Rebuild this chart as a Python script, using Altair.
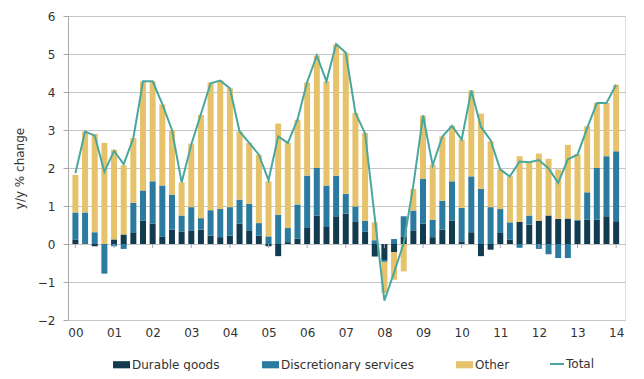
import json
import altair as alt
import pandas as pd

year_labels = ["00", "01", "02", "03", "04", "05", "06", "07", "08", "09", "10", "11", "12", "13", "14"]
quarters = list(range(57))  # 2000Q1 .. 2014Q1

series_names = ["Durable goods", "Discretionary services", "Other"]

durable = [0.12, 0.02, -0.06, 0.0, 0.12, 0.25, 0.29, 0.61, 0.54, 0.20,
           0.38, 0.33, 0.36, 0.38, 0.22, 0.18, 0.22, 0.54, 0.36, 0.22,
           -0.06, -0.32, 0.05, 0.14, 0.44, 0.75, 0.45, 0.73, 0.80, 0.58,
           0.32, -0.33, -0.42, -0.22, 0.20, 0.36, 0.54, 0.18, 0.38, 0.62,
           0.07, 0.31, -0.32, -0.15, 0.29, 0.11, 0.58, 0.51, 0.61, 0.75,
           0.66, 0.67, 0.61, 0.64, 0.64, 0.73, 0.60]

discretionary = [0.71, 0.81, 0.31, -0.78, -0.06, -0.13, 0.79, 0.80, 1.11, 1.34,
                 0.92, 0.42, 0.61, 0.30, 0.67, 0.74, 0.75, 0.63, 0.70, 0.33,
                 0.20, 0.77, 0.37, 0.90, 1.36, 1.25, 1.09, 1.07, 0.52, 0.41,
                 0.29, 0.10, -0.05, 0.13, 0.53, 0.52, 1.17, 0.46, 0.76, 1.03,
                 0.88, 1.47, 1.45, 0.97, 0.63, 0.46, -0.10, 0.24, -0.13, -0.27,
                 -0.37, -0.37, 0.02, 0.72, 1.36, 1.58, 1.84]

other = [0.99, 2.13, 2.59, 2.66, 2.36, 1.82, 1.71, 2.87, 2.63, 2.13,
         1.70, 0.87, 1.67, 2.72, 3.36, 3.38, 3.13, 1.79, 1.60, 1.80,
         1.45, 2.40, 2.24, 2.23, 2.45, 2.96, 2.74, 3.45, 3.71, 2.46,
         2.31, 0.47, -0.82, -0.72, -0.72, 0.57, 1.67, 1.45, 1.69, 1.46,
         1.80, 2.26, 1.98, 1.73, 1.04, 1.21, 1.73, 1.40, 1.77, 1.49,
         1.30, 1.94, 1.74, 1.74, 1.71, 1.40, 1.75]

total = [1.87, 2.96, 2.85, 1.90, 2.45, 2.10, 2.79, 4.28, 4.28, 3.68,
         3.00, 1.62, 2.62, 3.42, 4.23, 4.30, 4.10, 2.96, 2.66, 2.35,
         1.68, 2.83, 2.66, 3.27, 4.26, 4.96, 4.28, 5.26, 5.03, 3.45,
         2.91, 0.70, -1.49, -0.75, 0.02, 1.55, 3.38, 2.07, 2.83, 3.11,
         2.75, 4.04, 3.08, 2.73, 1.96, 1.78, 2.17, 2.15, 2.21, 1.99,
         1.61, 2.23, 2.35, 3.05, 3.71, 3.71, 4.19]

y_ticks = [-2, -1, 0, 1, 2, 3, 4, 5, 6]

bar_colors = ["#133b50", "#2a7b9f", "#e6c36a"]
line_color = "#4aa79d"
grid_color = "#c4c4c4"
axis_color = "#a8a8a8"
text_color = "#333333"
FONT = "DejaVu Sans"

rows = []
for k, (name, vals) in enumerate(zip(series_names, [durable, discretionary, other])):
    for q, v in zip(quarters, vals):
        rows.append({"q": q, "series": name, "order": k, "value": v})
bars_df = pd.DataFrame(rows)
line_df = pd.DataFrame({"q": quarters, "value": total, "series": ["Total"] * len(quarters)})
year_q = list(range(0, 57, 4))
ticks_df = pd.DataFrame({"q": year_q})

label_expr = json.dumps(year_labels) + "[round(datum.value / 4)]"

x_scale = alt.Scale(domain=[-0.25, 56.4], nice=False, zero=False)
x_axis = alt.Axis(values=year_q, labelExpr=label_expr, grid=False, ticks=False,
                  domain=False, labelPadding=7, title=None, labelFontSize=12,
                  labelColor=text_color, labelFont=FONT, labelOverlap=False)
y_scale = alt.Scale(domain=[-2, 6], nice=False)
y_axis = alt.Axis(values=y_ticks, title="y/y % change", grid=True, tickCount=9,
                  gridColor=grid_color, domainColor=axis_color, tickColor=axis_color,
                  tickSize=5, labelPadding=8, labelFontSize=12, labelColor=text_color,
                  labelFont=FONT, titleFont=FONT, titleFontSize=12, labelOverlap=False,
                  titleFontWeight="normal", titleColor=text_color, titlePadding=11)

bar_path = "M-1,-0.42L1,-0.42L1,0.42L-1,0.42Z"

bars = alt.Chart(bars_df).mark_bar(size=6).encode(
    x=alt.X("q:Q", scale=x_scale, axis=x_axis),
    y=alt.Y("value:Q", stack="zero", scale=y_scale, axis=y_axis),
    fill=alt.Fill("series:N", scale=alt.Scale(domain=series_names, range=bar_colors),
                  legend=alt.Legend(orient="none", legendX=45, legendY=340, direction="horizontal",
                                    title=None, symbolType=bar_path, symbolSize=289,
                                    symbolStrokeWidth=0, labelFontSize=12, labelFont=FONT,
                                    labelColor=text_color, columnPadding=42, labelOffset=2)),
    order=alt.Order("order:Q", sort="ascending"),
)

line = alt.Chart(line_df).mark_line(strokeWidth=2).encode(
    x=alt.X("q:Q", scale=x_scale, axis=x_axis),
    y=alt.Y("value:Q", scale=y_scale, axis=y_axis),
    stroke=alt.Stroke("series:N", scale=alt.Scale(domain=["Total"], range=[line_color]),
                      legend=alt.Legend(orient="none", legendX=481, legendY=340, title=None,
                                        symbolType="stroke", symbolSize=196,
                                        symbolStrokeWidth=2, labelFontSize=12, labelFont=FONT,
                                        labelColor=text_color, labelOffset=1)),
)

zero_ticks = alt.Chart(ticks_df).mark_rule(color=axis_color, strokeWidth=1).encode(
    x=alt.X("q:Q", scale=x_scale, axis=x_axis),
    y=alt.Y(datum=0, scale=y_scale, axis=y_axis),
    y2=alt.datum(-0.11),
)

chart = alt.layer(bars, zero_ticks, line).properties(
    width=557,
    height=304,
    padding={"left": 60, "top": 8, "right": 11, "bottom": 51},
    autosize=alt.AutoSizeParams(type="none"),
).configure_view(stroke=None).configure(font=FONT)

chart.save("out.html", embed_options={"renderer": "svg", "actions": False})
